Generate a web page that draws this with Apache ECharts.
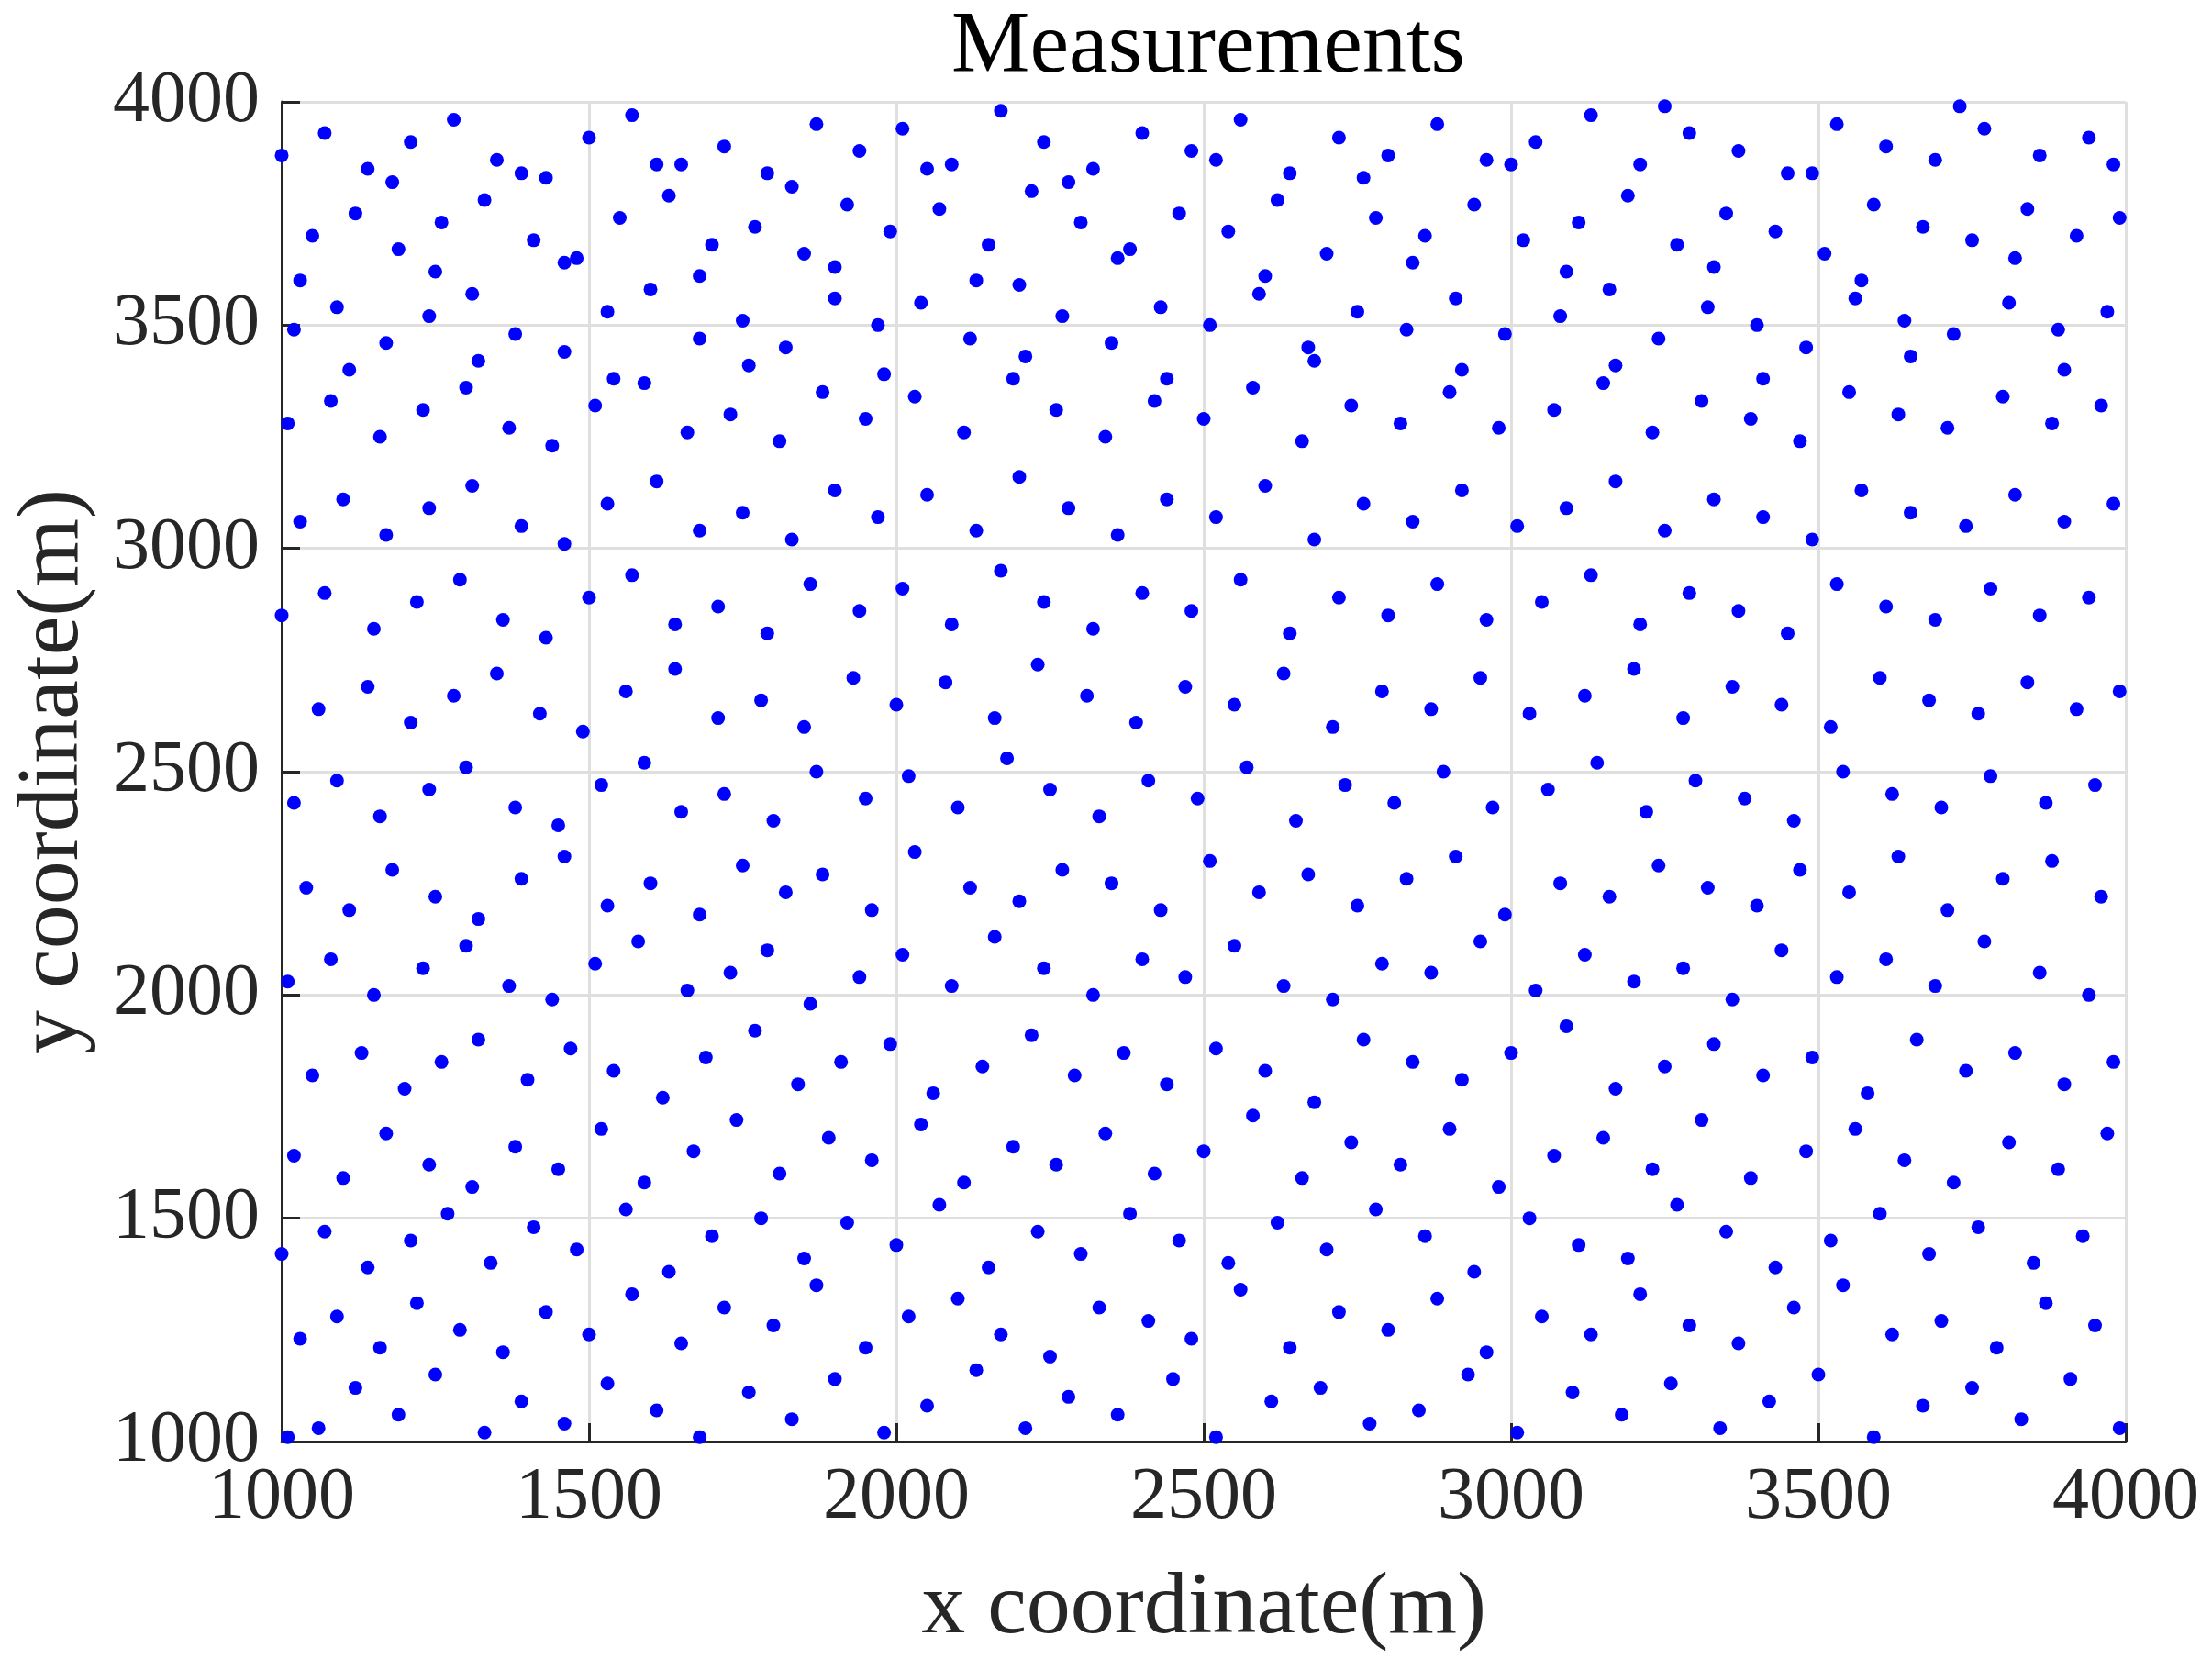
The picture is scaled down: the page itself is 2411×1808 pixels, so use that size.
<!DOCTYPE html>
<html>
<head>
<meta charset="utf-8">
<script src="https://cdn.jsdelivr.net/npm/echarts@6/dist/echarts.min.js"></script>
<style>html,body{margin:0;padding:0;background:#fff}#chart{width:2411px;height:1808px}</style>
</head>
<body>
<div id="chart"></div>
<script>
// measurement positions read (approximately) off the picture, [x, y] in metres
var measX = [
1010,1060,1120,1190,1250,1330,1390,1460,1530,1610,1680,1760,1830,1900,1980,2050,2130,2210,2280,2360,2450,2520,2610,2690,2770,2850,2930,3010,3100,3180,3260,3340,3420,3500,3590,3670,3750,3830,3910,3990,
1030,1090,1160,1220,1290,1360,1430,1500,1570,1650,1720,1800,1870,1950,2020,2100,2170,2250,2330,2410,2480,2560,2640,2720,2800,2880,2960,3050,3130,3210,3290,3370,3460,3540,3620,3700,3790,3870,3950,
1000,1070,1140,1210,1270,1340,1410,1480,1560,1630,1700,1780,1850,1920,2000,2070,2150,2230,2300,2380,2460,2540,2620,2700,2780,2860,2940,3030,3110,3190,3270,3350,3430,3520,3600,3680,3760,3850,3930,
1020,1100,1170,1240,1310,1380,1450,1520,1590,1670,1740,1810,1890,1960,2040,2110,2190,2260,2340,2420,2500,2580,2660,2740,2820,2900,2980,3070,3150,3230,3310,3390,3480,3560,3640,3720,3810,3890,3970,
1050,1130,1200,1260,1320,1400,1470,1540,1620,1690,1770,1840,1910,1990,2060,2140,2220,2290,2370,2440,2520,2600,2680,2760,2840,2920,3000,3090,3170,3250,3330,3410,3490,3580,3660,3740,3820,3900,3980,
1010,1080,1150,1230,1300,1370,1440,1510,1580,1660,1730,1790,1860,1940,2010,2090,2160,2240,2320,2400,2470,2550,2630,2710,2790,2870,2950,3040,3120,3200,3280,3360,3440,3530,3610,3690,3770,3860,3940,
1040,1110,1180,1250,1320,1390,1460,1530,1600,1680,1750,1820,1880,1960,2030,2120,2200,2270,2350,2430,2510,2590,2670,2750,2830,2910,2990,3080,3160,3240,3320,3400,3470,3550,3630,3710,3800,3880,3960,
1020,1090,1160,1240,1300,1380,1450,1520,1590,1650,1720,1800,1870,1950,2020,2100,2180,2250,2330,2410,2490,2570,2650,2730,2810,2890,2970,3060,3140,3220,3300,3380,3460,3540,3620,3700,3780,3870,3950,
1060,1140,1210,1280,1350,1420,1490,1560,1640,1710,1780,1850,1930,2000,2080,2160,2230,2310,2390,2470,2550,2630,2710,2790,2870,2950,3030,3120,3200,3280,3360,3440,3520,3600,3680,3760,3840,3920,3990,
1000,1070,1150,1220,1290,1360,1430,1500,1570,1640,1710,1790,1860,1940,2010,2090,2170,2240,2320,2400,2480,2560,2640,2720,2800,2880,2960,3050,3130,3210,3290,3370,3450,3530,3610,3690,3780,3860,3940,
1030,1100,1170,1240,1310,1390,1460,1530,1610,1680,1750,1830,1900,1970,2050,2130,2200,2280,2360,2440,2520,2600,2680,2760,2840,2920,3010,3090,3170,3250,3330,3410,3490,3570,3650,3740,3820,3900,3980,
1010,1080,1160,1230,1300,1370,1440,1510,1590,1660,1730,1810,1880,1950,2030,2110,2190,2260,2340,2420,2500,2580,2660,2740,2820,2900,2980,3070,3150,3230,3310,3390,3470,3550,3630,3710,3800,3880,3960
];
var measY = [
1010,1030,1120,1060,1150,1020,1090,1040,1130,1070,1010,1110,1050,1140,1020,1080,1160,1030,1100,1060,1140,1010,1090,1120,1040,1070,1150,1020,1110,1060,1130,1030,1090,1150,1010,1080,1120,1050,1140,1030,
1230,1280,1210,1310,1250,1200,1290,1240,1330,1220,1300,1260,1350,1210,1280,1320,1240,1190,1300,1270,1230,1340,1210,1290,1250,1320,1200,1280,1240,1330,1260,1220,1300,1350,1240,1270,1210,1310,1260,
1420,1470,1390,1450,1510,1400,1480,1430,1520,1380,1460,1500,1410,1490,1440,1530,1390,1470,1420,1510,1450,1400,1490,1430,1520,1460,1380,1500,1440,1410,1530,1470,1390,1450,1510,1420,1480,1400,1460,
1640,1590,1690,1620,1570,1660,1610,1700,1580,1650,1720,1600,1680,1630,1710,1580,1660,1620,1690,1600,1650,1730,1590,1670,1620,1700,1570,1640,1680,1610,1720,1590,1650,1700,1630,1580,1670,1610,1690,
1820,1870,1790,1850,1900,1810,1880,1830,1770,1860,1920,1800,1850,1890,1780,1840,1910,1820,1870,1800,1880,1830,1760,1900,1850,1810,1870,1930,1790,1840,1890,1820,1860,1780,1900,1830,1870,1800,1850,
2030,2080,2000,2060,2110,2020,1990,2070,2120,2010,2050,2100,1980,2040,2090,2020,2130,2060,2000,2080,2040,2110,2020,1990,2070,2050,2120,2010,2090,2030,2060,1990,2100,2040,2080,2020,2120,2050,2000,
2240,2190,2280,2220,2170,2260,2310,2200,2250,2180,2290,2230,2270,2190,2320,2240,2210,2280,2250,2190,2300,2230,2270,2200,2260,2310,2180,2250,2220,2290,2240,2200,2280,2230,2310,2190,2260,2300,2220,
2430,2480,2400,2460,2510,2420,2380,2470,2520,2410,2450,2390,2500,2440,2490,2420,2530,2460,2400,2480,2440,2510,2390,2470,2430,2500,2420,2460,2520,2410,2480,2440,2390,2500,2450,2420,2490,2430,2470,
2640,2690,2610,2670,2720,2630,2590,2680,2730,2620,2660,2600,2710,2650,2700,2620,2740,2670,2610,2690,2650,2720,2600,2680,2640,2710,2630,2670,2730,2620,2690,2650,2600,2710,2660,2630,2700,2640,2680,
2850,2900,2820,2880,2930,2840,2800,2890,2940,2830,2870,2810,2920,2860,2910,2830,2950,2880,2820,2900,2860,2930,2810,2890,2850,2920,2840,2880,2940,2830,2900,2860,2810,2920,2870,2840,2910,2850,2890,
3060,3110,3030,3090,3140,3050,3010,3100,3150,3040,3080,3020,3130,3070,3120,3040,3160,3090,3030,3110,3070,3140,3020,3100,3060,3130,3050,3090,3150,3040,3110,3070,3020,3130,3080,3050,3120,3060,3100,
3280,3330,3250,3310,3360,3270,3230,3320,3370,3260,3300,3240,3350,3290,3340,3260,3380,3310,3250,3330,3290,3360,3240,3320,3280,3350,3270,3310,3370,3260,3330,3290,3240,3350,3300,3270,3340,3280,3320
];
// upper band of measurements, read the same way
var measX2 = [
1020,1090,1170,1240,1310,1380,1460,1530,1600,1680,1750,1820,1900,1970,2040,2120,2200,2270,2350,2430,2510,2590,2670,2750,2830,2910,2990,3080,3160,3240,3320,3400,3480,3560,3640,3720,3810,3890,3970,
1050,1120,1190,1260,1330,1410,1480,1550,1630,1700,1770,1850,1920,1990,2070,2150,2220,2300,2380,2460,2540,2620,2700,2780,2860,2940,3020,3110,3190,3270,3350,3430,3510,3590,3670,3750,3840,3920,3990,
1000,1070,1140,1210,1280,1350,1430,1500,1570,1650,1720,1790,1870,1940,2010,2090,2170,2240,2320,2400,2480,2560,2640,2720,2800,2880,2960,3040,3130,3210,3290,3370,3450,3530,3610,3690,3770,3860,3940,
1030,1110,1180,1250,1320,1390,1460,1540,1610,1680,1760,1830,1900,1980,2050,2130,2210,2280,2360,2440,2520,2600,2680,2760,2840,2920,3000,3090,3170,3250,3330,3410,3490,3570,3650,3730,3820,3900,3980
];
var measY2 = [
3490,3540,3460,3520,3570,3480,3440,3530,3580,3470,3510,3450,3560,3500,3550,3470,3590,3520,3460,3540,3500,3570,3450,3530,3490,3560,3480,3520,3580,3470,3540,3500,3450,3560,3510,3480,3550,3490,3530,
3700,3750,3670,3730,3780,3690,3650,3740,3790,3680,3720,3660,3770,3710,3760,3680,3800,3730,3670,3750,3710,3780,3660,3740,3700,3770,3690,3730,3790,3680,3750,3710,3660,3770,3720,3690,3760,3700,3740,
3880,3930,3850,3910,3960,3870,3830,3920,3970,3860,3900,3840,3950,3890,3940,3860,3980,3910,3850,3930,3890,3960,3840,3920,3880,3950,3870,3910,3970,3860,3930,3890,3840,3950,3900,3870,3940,3880,3920,
3600,3400,3820,3620,3420,3840,3640,3380,3860,3610,3410,3810,3630,3390,3850,3600,3430,3820,3650,3380,3870,3610,3420,3830,3640,3400,3860,3620,3410,3990,3630,3380,3840,3600,3430,3990,3650,3400,3860
];

var points = [];
measX.forEach(function (x, i) { points.push([x, measY[i]]); });
measX2.forEach(function (x, i) { points.push([x, measY2[i]]); });

var tickFont = 'Liberation Serif';
var plain = function (v) { return String(v); };
var chart = echarts.init(document.getElementById('chart'));
chart.setOption({
    animation: false,
    backgroundColor: '#ffffff',
    title: {
        text: 'Measurements',
        left: 1312, top: 0, textAlign: 'center',
        textStyle: {fontFamily: tickFont, fontSize: 96, fontWeight: 'normal', color: '#000'}
    },
    grid: {left: 307, right: 94, top: 111, bottom: 237},
    xAxis: {
        type: 'value', min: 1000, max: 4000, interval: 500,
        name: 'x coordinate(m)', nameLocation: 'middle', nameGap: 135,
        nameTextStyle: {fontFamily: tickFont, fontSize: 96, color: '#262626'},
        axisLine: {lineStyle: {color: '#262626', width: 3}},
        axisTick: {inside: true, length: 20, lineStyle: {color: '#262626', width: 3}},
        axisLabel: {fontFamily: tickFont, fontSize: 80, color: '#262626', margin: 22, formatter: plain},
        splitLine: {lineStyle: {color: '#dfdfdf', width: 3}}
    },
    yAxis: {
        type: 'value', min: 1000, max: 4000, interval: 500,
        name: 'y coordinate(m)', nameLocation: 'middle', nameGap: 200,
        nameTextStyle: {fontFamily: tickFont, fontSize: 96, color: '#262626'},
        axisLine: {lineStyle: {color: '#262626', width: 3}},
        axisTick: {inside: true, length: 20, lineStyle: {color: '#262626', width: 3}},
        axisLabel: {fontFamily: tickFont, fontSize: 80, color: '#262626', margin: 24, formatter: plain},
        splitLine: {lineStyle: {color: '#dfdfdf', width: 3}}
    },
    series: [{
        type: 'scatter',
        symbolSize: 15,
        itemStyle: {color: '#0000ff', opacity: 1},
        data: points
    }]
});
</script>
</body>
</html>
